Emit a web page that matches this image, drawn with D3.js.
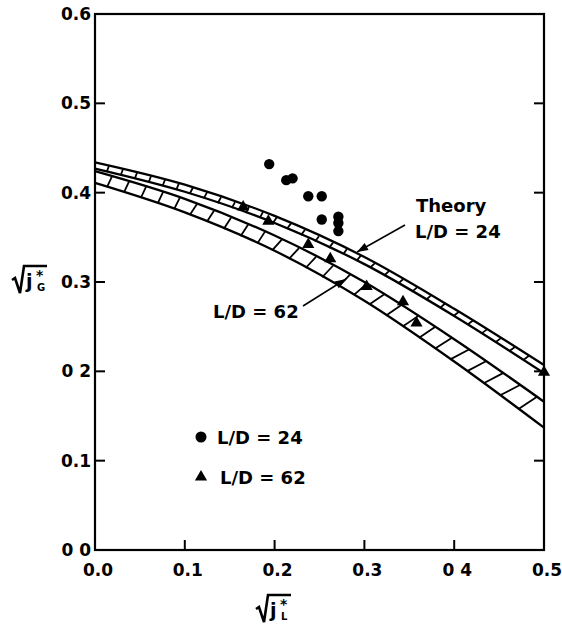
<!DOCTYPE html>
<html>
<head>
<meta charset="utf-8">
<script src="https://cdn.jsdelivr.net/npm/d3@7"></script>
<style>
  body { margin: 0; background: #fff; }
  text { font-family: "DejaVu Sans", sans-serif; font-weight: bold; fill: #000; }
</style>
</head>
<body>
<div id="chart"></div>
<script>
// tick labels (as printed on the scan)
var xTickValues = [0, 0.1, 0.2, 0.3, 0.4, 0.5];
var xTickLabels = ["0.0", "0.1", "0.2", "0.3", "0 4", "0.5"];
var yTickValues = [0, 0.1, 0.2, 0.3, 0.4, 0.5, 0.6];
var yTickLabels = ["0 0", "0.1", "0 2", "0.3", "0.4", "0.5", "0.6"];

// theory bands, read at x = 0 .. 0.5
var bandX = [0, 0.1, 0.2, 0.3, 0.4, 0.5];
var theory24Top = [0.434, 0.409, 0.374, 0.328, 0.270, 0.207];
var theory24Bottom = [0.427, 0.401, 0.366, 0.320, 0.262, 0.198];
var theory62Top = [0.424, 0.393, 0.352, 0.300, 0.236, 0.166];
var theory62Bottom = [0.411, 0.378, 0.335, 0.279, 0.211, 0.137];

// measured points, L/D = 24 (circles)
var circleX = [0.194, 0.213, 0.220, 0.2375, 0.2525, 0.2525, 0.271, 0.271, 0.271];
var circleY = [0.432, 0.414, 0.416, 0.396, 0.396, 0.370, 0.373, 0.366, 0.357];

// measured points, L/D = 62 (triangles)
var triX = [0.165, 0.193, 0.2375, 0.262, 0.3025, 0.343, 0.358, 0.5];
var triY = [0.384, 0.368, 0.342, 0.326, 0.295, 0.278, 0.254, 0.199];

var svgWidth = 562;
var svgHeight = 625;

var svg = d3.select("#chart")
  .append("svg")
  .attr("width", svgWidth)
  .attr("height", svgHeight);

var x = d3.scaleLinear().domain([0, 0.5]).range([95, 544]);
var y = d3.scaleLinear().domain([0, 0.6]).range([550, 14]);

// frame
svg.append("rect")
  .attr("x", x(0))
  .attr("y", y(0.6))
  .attr("width", x(0.5) - x(0))
  .attr("height", y(0) - y(0.6))
  .attr("fill", "none")
  .attr("stroke", "#000")
  .attr("stroke-width", 2.2);

// inward ticks
var tickLen = 10;
svg.selectAll(".xtick")
  .data(xTickValues.slice(1, 5))
  .enter()
  .append("line")
  .attr("x1", d => x(d)).attr("x2", d => x(d))
  .attr("y1", y(0)).attr("y2", y(0) - tickLen)
  .attr("stroke", "#000").attr("stroke-width", 2);

svg.selectAll(".ytick")
  .data(yTickValues.slice(1, 6))
  .enter()
  .append("line")
  .attr("x1", x(0)).attr("x2", x(0) + tickLen)
  .attr("y1", d => y(d)).attr("y2", d => y(d))
  .attr("stroke", "#000").attr("stroke-width", 2);

svg.selectAll(".rtick")
  .data(yTickValues.slice(1, 6))
  .enter()
  .append("line")
  .attr("x1", x(0.5)).attr("x2", x(0.5) - tickLen)
  .attr("y1", d => y(d)).attr("y2", d => y(d))
  .attr("stroke", "#000").attr("stroke-width", 2);

// tick labels
svg.selectAll(".xlab")
  .data(xTickValues)
  .enter()
  .append("text")
  .attr("x", d => x(d) + 3)
  .attr("y", 576)
  .attr("text-anchor", "middle")
  .attr("font-size", "17px")
  .text((d, i) => xTickLabels[i]);

svg.selectAll(".ylab")
  .data(yTickValues)
  .enter()
  .append("text")
  .attr("x", 91)
  .attr("y", d => y(d) + 6)
  .attr("text-anchor", "end")
  .attr("font-size", "17px")
  .text((d, i) => yTickLabels[i]);

// axis titles: sqrt(j*_G) and sqrt(j*_L)
function sqrtLabel(x0, y0, sub) {
  var g = svg.append("g").attr("transform", `translate(${x0}, ${y0})`);
  g.append("path")
    .attr("d", "M0,14 L3,12 L8,27 L12,0 L35,0")
    .attr("fill", "none")
    .attr("stroke", "#000")
    .attr("stroke-width", 2.6)
    .attr("stroke-linejoin", "miter");
  g.append("text").attr("x", 14).attr("y", 22).attr("font-size", "19px").text("j");
  g.append("text").attr("x", 24).attr("y", 14).attr("font-size", "14px").text("*");
  g.append("text").attr("x", 25).attr("y", 25).attr("font-size", "10px").text(sub);
}
sqrtLabel(12, 266, "G");
sqrtLabel(256, 595, "L");

// band drawing
function drawBand(topVals, bottomVals, step, lean) {
  var top = d3.scaleLinear().domain(bandX).range(topVals);
  var bottom = d3.scaleLinear().domain(bandX).range(bottomVals);

  var line = d3.line()
    .x((d, i) => x(bandX[i]))
    .y(d => y(d))
    .curve(d3.curveMonotoneX);

  [topVals, bottomVals].forEach(function(vals) {
    svg.append("path")
      .attr("d", line(vals))
      .attr("fill", "none")
      .attr("stroke", "#000")
      .attr("stroke-width", 2.3);
  });

  // rungs leaning back, roughly perpendicular to the band
  var rungs = [];
  for (var px = x(0) + step; px < x(0.5) - 2; px += step) {
    var v = x.invert(px);
    var yt = y(top(v));
    var yb = y(bottom(v));
    var slope = (y(top(Math.min(v + 0.01, 0.5))) - y(top(Math.max(v - 0.01, 0)))) / (x(0.02) - x(0));
    var px2 = Math.max(x(0), px - (slope + 0.1) * (yb - yt) * lean);
    rungs.push([px, yt, px2, y(bottom(x.invert(px2)))]);
  }
  svg.selectAll(null)
    .data(rungs)
    .enter()
    .append("line")
    .attr("x1", d => d[0]).attr("y1", d => d[1])
    .attr("x2", d => d[2]).attr("y2", d => d[3])
    .attr("stroke", "#000")
    .attr("stroke-width", 1.8);
}

drawBand(theory24Top, theory24Bottom, 14, 1);
drawBand(theory62Top, theory62Bottom, 17, 1);

// data points
var tri = d3.symbol().type(d3.symbolTriangle).size(64);

svg.selectAll(".circ")
  .data(circleX)
  .enter()
  .append("circle")
  .attr("cx", d => x(d))
  .attr("cy", (d, i) => y(circleY[i]))
  .attr("r", 5.2)
  .attr("fill", "#000");

svg.selectAll(".tri")
  .data(triX)
  .enter()
  .append("path")
  .attr("d", tri)
  .attr("transform", (d, i) => `translate(${x(d)}, ${y(triY[i])})`)
  .attr("fill", "#000");

// annotations
function arrow(x1, y1, x2, y2) {
  svg.append("line")
    .attr("x1", x1).attr("y1", y1).attr("x2", x2).attr("y2", y2)
    .attr("stroke", "#000").attr("stroke-width", 1.5);
  var a = Math.atan2(y2 - y1, x2 - x1) * 180 / Math.PI;
  svg.append("path")
    .attr("d", "M0,0 L-11,-4 L-11,4 Z")
    .attr("transform", `translate(${x2}, ${y2}) rotate(${a})`)
    .attr("fill", "#000");
}

svg.append("text").attr("x", 416).attr("y", 212).attr("font-size", "18px").text("Theory");
svg.append("text").attr("x", 415).attr("y", 238).attr("font-size", "18px").text("L/D = 24");
arrow(405, 225, 357, 252);

svg.append("text").attr("x", 213).attr("y", 318).attr("font-size", "18px").text("L/D = 62");
arrow(303, 306, 346, 279);

// legend
svg.append("circle").attr("cx", 201).attr("cy", 437).attr("r", 5.5).attr("fill", "#000");
svg.append("text").attr("x", 217).attr("y", 444).attr("font-size", "18px").text("L/D = 24");
svg.append("path")
  .attr("d", tri)
  .attr("transform", "translate(201, 477)")
  .attr("fill", "#000");
svg.append("text").attr("x", 220).attr("y", 484).attr("font-size", "18px").text("L/D = 62");
</script>
</body>
</html>
